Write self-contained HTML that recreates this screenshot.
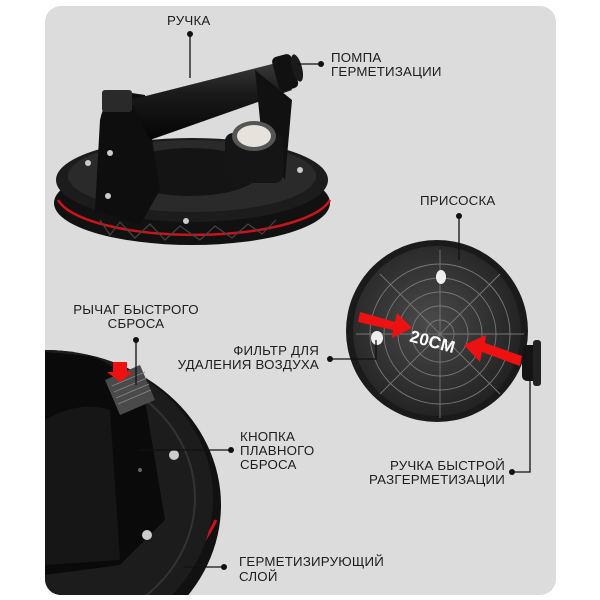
<!DOCTYPE html>
<html><head><meta charset="utf-8"><style>
html,body{margin:0;width:600px;height:600px;background:#fff;overflow:hidden}
svg{display:block}
text{font-family:"Liberation Sans",sans-serif;font-size:13.3px;fill:#1e1e1e;letter-spacing:0.2px}
</style></head><body>
<svg width="600" height="600" viewBox="0 0 600 600">
<defs>
<radialGradient id="cup" cx="0.45" cy="0.45" r="0.6"><stop offset="0" stop-color="#4a4a4a"/><stop offset="1" stop-color="#202020"/></radialGradient>
<linearGradient id="hand" x1="0" y1="0" x2="0" y2="1"><stop offset="0" stop-color="#3a3a3a"/><stop offset="0.4" stop-color="#1a1a1a"/><stop offset="1" stop-color="#050505"/></linearGradient>
<clipPath id="card"><rect x="45" y="6" width="511" height="589" rx="16"/></clipPath>
</defs>
<rect x="45" y="6" width="511" height="589" rx="16" fill="#dcdcdc"/>
<g clip-path="url(#card)">
<!-- top tool -->
<ellipse cx="192" cy="203" rx="138" ry="42" fill="#111"/>
<path d="M58 200 A138 42 0 0 0 330 200" fill="none" stroke="#c8141a" stroke-width="2.5"/>
<ellipse cx="192" cy="180" rx="136" ry="42" fill="#1c1c1c"/>
<ellipse cx="192" cy="176" rx="124" ry="36" fill="#2a2a2a"/>
<ellipse cx="190" cy="172" rx="70" ry="24" fill="#141414"/>
<path d="M100 220 L110 235 L120 222 L135 238 L150 224 L165 240 L180 226 L200 240 L215 226 L232 238 L248 224 L262 234 L276 220" fill="none" stroke="#444" stroke-width="1.2"/>
<path d="M95 210 L100 120 Q105 95 125 92 L145 95 L160 190 L140 225 Z" fill="#0e0e0e"/>
<path d="M130 100 L280 62 L292 90 L150 140 Z" fill="url(#hand)"/>
<path d="M255 70 L262 140 L285 180 L292 100 Z" fill="#111"/>
<rect x="275" y="55" width="20" height="35" rx="5" fill="#111" transform="rotate(-15 285 72)"/>
<ellipse cx="297" cy="68" rx="5" ry="14" fill="#1a1a1a" transform="rotate(-15 297 68)"/>
<rect x="225" y="133" width="58" height="50" rx="8" fill="#151515"/>
<ellipse cx="254" cy="136" rx="22" ry="15" fill="#555"/>
<ellipse cx="254" cy="136" rx="17" ry="11" fill="#e8e2dc"/>
<rect x="102" y="90" width="30" height="22" rx="3" fill="#2a2a2a"/>
<circle cx="110" cy="153" r="3" fill="#ccc"/><circle cx="108" cy="196" r="3" fill="#ccc"/><circle cx="186" cy="221" r="3" fill="#ccc"/><circle cx="300" cy="170" r="3" fill="#ccc"/><circle cx="88" cy="163" r="3" fill="#ccc"/>
<!-- suction cup -->
<ellipse cx="437" cy="331" rx="91" ry="91" fill="#1a1a1a"/>
<ellipse cx="437" cy="331" rx="84" ry="85" fill="url(#cup)"/>
<g fill="none" stroke="#777" stroke-width="0.9">
<circle cx="440" cy="334" r="70"/><circle cx="440" cy="334" r="56"/><circle cx="440" cy="334" r="42"/><circle cx="440" cy="334" r="28"/><circle cx="440" cy="334" r="14"/>
<path d="M440 250 V418 M356 334 H524 M380 274 L500 394 M500 274 L380 394"/>
</g>
<ellipse cx="441" cy="277" rx="5" ry="7" fill="#eee"/>
<ellipse cx="377" cy="338" rx="6" ry="7" fill="#eee"/>
<path d="M360 312 L395 322 L397 313 L412 328 L392 338 L393 330 L358 322 Z" fill="#e11"/>
<path d="M520 366 L482 352 L480 362 L464 345 L486 335 L485 343 L522 356 Z" fill="#e11"/>
<text x="410" y="348" transform="rotate(15 435 340)" style="fill:#fff;font-weight:bold;font-size:17px">20CM</text>
<rect x="522" y="345" width="18" height="36" rx="5" fill="#141414"/>
<rect x="533" y="340" width="8" height="46" rx="3" fill="#222"/>
<!-- bottom-left closeup -->
<ellipse cx="45" cy="505" rx="176" ry="155" fill="#111"/>
<path d="M150 590 A176 155 0 0 0 216 520" fill="none" stroke="#c8141a" stroke-width="3"/>
<ellipse cx="45" cy="498" rx="168" ry="148" fill="#1c1c1c"/>
<ellipse cx="45" cy="498" rx="150" ry="132" fill="none" stroke="#333" stroke-width="2"/>
<path d="M45 352 L90 356 Q110 362 120 375 L145 400 L165 520 L120 565 L45 575 Z" fill="#0a0a0a"/>
<path d="M45 420 Q80 400 110 410 L120 560 L45 565 Z" fill="#161616"/>
<path d="M105 380 L140 365 L155 400 L120 415 Z" fill="#4a4a4a"/>
<g stroke="#888" stroke-width="0.8"><path d="M112 386 L145 372 M114 392 L147 378 M116 398 L149 384 M118 404 L151 390"/></g>
<path d="M113 362 H127 V372 H133 L120 382 L107 372 H113 Z" fill="#e11"/>
<circle cx="174" cy="455" r="5" fill="#ccc"/><circle cx="147" cy="535" r="5" fill="#ccc"/>
<circle cx="140" cy="470" r="2" fill="#666"/>
</g>
<!-- leader lines -->
<g stroke="#111" stroke-width="1.3" fill="none">
<path d="M190 34 V78"/><path d="M321 64 H297"/><path d="M459 216 V260"/><path d="M136 340 V385"/>
<path d="M330 359 H376 V340"/><path d="M231 450 H140"/><path d="M512 472 H530 V372"/><path d="M224 567 H184"/>
</g>
<g fill="#111">
<circle cx="190" cy="34" r="3"/><circle cx="321" cy="64" r="3"/><circle cx="459" cy="216" r="3"/><circle cx="136" cy="340" r="3"/>
<circle cx="330" cy="359" r="3"/><circle cx="231" cy="450" r="3"/><circle cx="512" cy="472" r="3"/><circle cx="224" cy="567" r="3"/>
</g>
<text x="167" y="25">РУЧКА</text>
<text x="331" y="62">ПОМПА</text><text x="331" y="76">ГЕРМЕТИЗАЦИИ</text>
<text x="420" y="205">ПРИСОСКА</text>
<text x="136" y="314" text-anchor="middle">РЫЧАГ БЫСТРОГО</text><text x="136" y="328" text-anchor="middle">СБРОСА</text>
<text x="319" y="355" text-anchor="end">ФИЛЬТР ДЛЯ</text><text x="319" y="369" text-anchor="end">УДАЛЕНИЯ ВОЗДУХА</text>
<text x="240" y="441">КНОПКА</text><text x="240" y="455">ПЛАВНОГО</text><text x="240" y="469">СБРОСА</text>
<text x="505" y="470" text-anchor="end">РУЧКА БЫСТРОЙ</text><text x="505" y="484" text-anchor="end">РАЗГЕРМЕТИЗАЦИИ</text>
<text x="239" y="566">ГЕРМЕТИЗИРУЮЩИЙ</text><text x="239" y="581">СЛОЙ</text>
</svg>
</body></html>
